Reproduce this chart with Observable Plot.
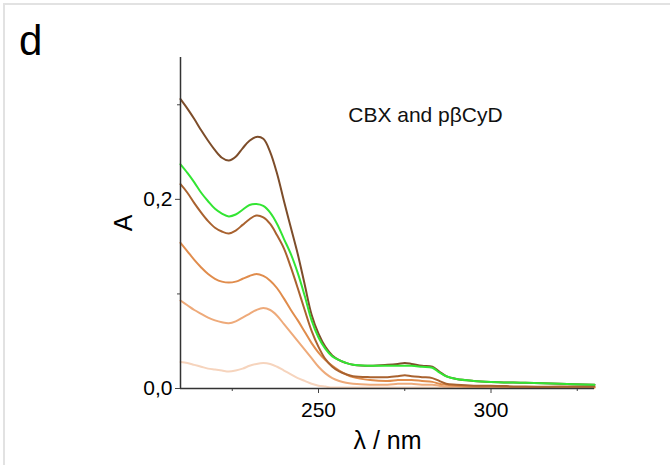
<!DOCTYPE html>
<html>
<head>
<meta charset="utf-8">
<script src="https://cdn.jsdelivr.net/npm/d3@7"></script>
<script src="https://cdn.jsdelivr.net/npm/@observablehq/plot@0.6"></script>
<style>
  html, body { margin: 0; padding: 0; background: #fff; }
  #wrap { position: relative; width: 670px; height: 465px; overflow: hidden; font-family: "Liberation Sans", Arial, sans-serif; }
  #frame { position: absolute; left: 3px; top: 3px; right: -10px; bottom: -10px; border-top: 2px solid #e2e2e2; border-left: 2px solid #e2e2e2; pointer-events: none; }
  #panel { position: absolute; left: 19px; top: 20px; font-size: 42px; line-height: 42px; color: #000; }
  #chart { position: absolute; left: 0; top: 0; }
</style>
</head>
<body>
<div id="wrap">
  <div id="frame"></div>
  <div id="chart"></div>
  <div id="panel">d</div>
</div>
<script>
// Wavelength grid (nm)
const wavelength = [210,212,214,216,218,220,222,224,226,228,230,232,234,236,238,240,242,244,246,248,250,252,254,256,258,260,265,270,273,275,277,280,283,285,287,290,295,300,310,320,330];

// Absorbance series
const darkBrown = [0.306,0.296,0.285,0.273,0.262,0.252,0.244,0.241,0.245,0.254,0.262,0.266,0.264,0.250,0.227,0.198,0.170,0.142,0.110,0.078,0.058,0.044,0.035,0.030,0.027,0.025,0.024,0.025,0.026,0.027,0.026,0.024,0.023,0.018,0.013,0.010,0.008,0.007,0.006,0.005,0.004];
const green = [0.237,0.228,0.218,0.207,0.198,0.190,0.185,0.182,0.184,0.189,0.194,0.195,0.193,0.186,0.174,0.158,0.142,0.122,0.098,0.072,0.054,0.042,0.034,0.030,0.027,0.025,0.024,0.024,0.024,0.024,0.024,0.023,0.022,0.017,0.013,0.010,0.008,0.007,0.006,0.005,0.004];
const mediumBrown = [0.216,0.207,0.196,0.186,0.177,0.170,0.166,0.164,0.167,0.173,0.179,0.183,0.181,0.174,0.162,0.148,0.128,0.106,0.083,0.061,0.044,0.031,0.023,0.018,0.015,0.013,0.012,0.012,0.013,0.014,0.013,0.012,0.011,0.008,0.005,0.004,0.003,0.003,0.002,0.002,0.002];
const orange = [0.154,0.145,0.136,0.128,0.121,0.116,0.113,0.112,0.113,0.116,0.119,0.121,0.119,0.114,0.106,0.095,0.083,0.072,0.060,0.048,0.038,0.030,0.024,0.019,0.015,0.012,0.009,0.008,0.009,0.009,0.009,0.008,0.007,0.005,0.004,0.003,0.002,0.002,0.001,0.001,0.001];
const lightOrange = [0.093,0.088,0.083,0.079,0.075,0.072,0.070,0.069,0.071,0.075,0.079,0.083,0.085,0.083,0.077,0.068,0.059,0.050,0.041,0.032,0.023,0.016,0.011,0.008,0.006,0.005,0.004,0.004,0.005,0.005,0.005,0.004,0.004,0.003,0.002,0.002,0.001,0.001,0.001,0.001,0.001];
const veryLight = [0.028,0.027,0.025,0.023,0.021,0.020,0.019,0.018,0.019,0.021,0.024,0.026,0.027,0.026,0.023,0.019,0.015,0.011,0.008,0.005,0.003,0.002,0.001,0.001,0.001,0.001,0.001,0.001,0.001,0.001,0.001,0.001,0.001,0.001,0.001,0.001,0.001,0.001,0.001,0.001,0.001];

// Series names & colours (draw order: lightest first, green last)
const seriesNames = ["veryLight","lightOrange","orange","mediumBrown","darkBrown","green"];
const seriesValues = [veryLight, lightOrange, orange, mediumBrown, darkBrown, green];
const seriesColors = ["#f6d4bd","#eeaa7a","#e08c4c","#a9622f","#7d4d2a","#33e533"];

// Axis ticks
const yMajorTicks = [0, 0.2];
const yMinorTicks = [0.1, 0.3];
const xMajorTicks = [250, 300];
const xMinorTicks = [225, 275, 325];

const annotation = [{x: 281, y: 0.289, text: "CBX and p\u03B2CyD"}];

const rows = [];
seriesNames.forEach((name, i) => {
  wavelength.forEach((w, j) => rows.push({series: name, order: i, wl: w, A: seriesValues[i][j]}));
});

const font = "Liberation Sans, Arial, sans-serif";

const chart = Plot.plot({
  width: 670,
  height: 465,
  marginLeft: 180,
  marginRight: 76,
  marginTop: 57,
  marginBottom: 77,
  style: {fontFamily: font, background: "transparent", color: "#000"},
  x: {domain: [210, 330]},
  y: {domain: [0, 0.35]},
  color: {domain: seriesNames, range: seriesColors},
  marks: [
    Plot.axisY(yMinorTicks, {tickSize: 3, tickFormat: () => "", label: null, stroke: "#444"}),
    Plot.axisY(yMajorTicks, {tickSize: 5, tickPadding: 3, fontSize: 21,
      tickFormat: d => d.toFixed(1).replace(".", ","), stroke: "#444",
      label: "A", labelAnchor: "center", labelArrow: "none", labelOffset: 66}),
    Plot.axisX(xMinorTicks, {tickSize: 3, tickFormat: () => "", label: null, stroke: "#444"}),
    Plot.axisX(xMajorTicks, {tickSize: 5, tickPadding: 9, fontSize: 21,
      tickFormat: d => String(d), stroke: "#444",
      label: "\u03BB / nm", labelAnchor: "center", labelArrow: "none", labelOffset: 60}),
    Plot.line(rows, {x: "wl", y: "A", z: "series", stroke: "series", strokeWidth: 2, curve: "catmull-rom"}),
    Plot.ruleX([210], {stroke: "#333", strokeWidth: 1.5}),
    Plot.ruleY([0], {stroke: "#333", strokeWidth: 1.5}),
    Plot.text(annotation, {x: "x", y: "y", text: "text", fontSize: 21, fill: "#111", textAnchor: "middle"})
  ]
});
document.getElementById("chart").appendChild(chart);
// label font sizes
chart.querySelectorAll("g[aria-label='y-axis label'] text, g[aria-label='x-axis label'] text").forEach(t => t.setAttribute("font-size", 25));
</script>
</body>
</html>
